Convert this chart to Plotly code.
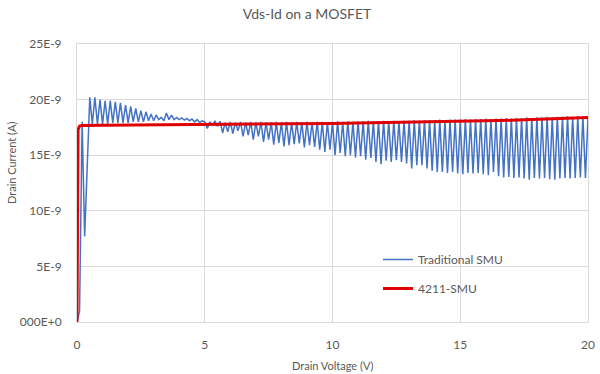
import plotly.graph_objects as go

# Sweep of drain voltage (V), 0.1 V steps, for the traditional SMU trace
drain_voltage = [round(0.1 * i, 1) for i in range(201)]

# Traditional SMU drain current (nA)
traditional_na = [
    0.0, 1.0, 18.0, 7.7, 14.0, 20.2, 17.8, 20.2, 17.8, 20.0,
    17.8, 19.9, 17.8, 19.9, 17.9, 19.8, 17.9, 19.7, 17.9, 19.5,
    17.9, 19.4, 18.0, 19.2, 18.0, 19.0, 18.0, 18.9, 18.1, 18.7,
    18.1, 18.6, 18.2, 18.4, 18.1, 18.8, 18.2, 18.6, 18.2, 18.4,
    18.2, 18.35, 18.15, 18.3, 18.1, 18.25, 18.0, 18.2, 17.95, 18.1,
    18.0, 17.4, 18.0, 17.7, 18.05, 17.6, 18.05, 17.0, 17.95, 17.1,
    18.0, 16.95, 17.95, 17.2, 18.0, 16.7, 17.95, 16.8, 18.0, 16.4,
    17.95, 16.7, 18.0, 16.2, 17.95, 16.4, 17.95, 15.95, 18.0, 16.1,
    17.95, 15.8, 18.0, 15.9, 17.95, 16.0, 18.0, 16.05, 17.95, 15.7,
    18.0, 15.9, 17.95, 15.75, 18.0, 15.5, 18.0, 15.3, 17.95, 15.5,
    18.0, 15.0, 18.05, 15.2, 18.0, 14.9, 18.05, 15.0, 18.0, 14.8,
    18.05, 14.9, 18.05, 14.6, 18.1, 14.75, 18.05, 14.4, 18.05, 14.2,
    18.1, 14.5, 18.05, 14.4, 18.1, 14.55, 18.05, 14.4, 18.1, 14.25,
    18.1, 13.8, 18.15, 14.1, 18.1, 14.1, 18.15, 13.8, 18.15, 13.6,
    18.15, 13.5, 18.2, 13.5, 18.15, 13.4, 18.2, 13.5, 18.2, 13.35,
    18.2, 13.3, 18.25, 13.4, 18.2, 13.35, 18.25, 13.4, 18.25, 13.3,
    18.3, 13.2, 18.25, 13.5, 18.3, 13.1, 18.3, 13.0, 18.35, 13.05,
    18.3, 12.95, 18.35, 13.0, 18.35, 12.9, 18.4, 12.8, 18.35, 12.95,
    18.4, 12.9, 18.4, 12.95, 18.45, 12.85, 18.4, 12.8, 18.45, 12.9,
    18.45, 12.95, 18.5, 12.9, 18.45, 12.95, 18.5, 13.0, 18.5, 12.95,
    18.45,
]

# 4211-SMU trace (V, nA)
smu4211_v = [0, 0.04, 0.1, 0.2, 1, 2, 3, 4, 5, 6, 7, 8, 9, 10,
             11, 12, 13, 14, 15, 16, 17, 18, 19, 20]
smu4211_na = [0.0, 17.3, 17.62, 17.68, 17.70, 17.71, 17.72, 17.73, 17.75,
              17.77, 17.79, 17.81, 17.83, 17.86, 17.89, 17.92, 17.96, 18.00,
              18.05, 18.10, 18.15, 18.21, 18.29, 18.38]

y_tick_vals_na = [0, 5, 10, 15, 20, 25]
y_tick_text = ["000E+0", "5E-9", "10E-9", "15E-9", "20E-9", "25E-9"]
x_tick_vals = [0, 5, 10, 15, 20]

FONT = "Lato, 'Open Sans', sans-serif"
TXT = "#595959"
GRID = "#D9D9D9"

fig = go.Figure()
fig.add_trace(go.Scatter(
    x=drain_voltage, y=[v * 1e-9 for v in traditional_na],
    mode="lines", name="Traditional SMU", legendgroup="a",
    line=dict(color="#4472C4", width=1.5),
))
fig.add_trace(go.Scatter(
    x=smu4211_v, y=[v * 1e-9 for v in smu4211_na],
    mode="lines", name="4211-SMU", legendgroup="b",
    line=dict(color="#E00000", width=3),
))

fig.update_layout(
    width=600, height=374, autosize=False,
    margin=dict(l=77, r=12, t=44, b=52, autoexpand=False),
    paper_bgcolor="white", plot_bgcolor="white",
    font=dict(family=FONT, color=TXT, size=12),
    title=dict(text="Vds-Id on a MOSFET", x=307 / 600, xref="container",
               xanchor="center", y=1 - 14.5 / 374, yref="container",
               yanchor="middle", font=dict(size=14, color=TXT, family=FONT)),
    legend=dict(x=(378 - 77) / 511, y=(322 - 245) / 278, xanchor="left",
                yanchor="top", bgcolor="rgba(255,255,255,0)",
                font=dict(size=12, color=TXT, family=FONT),
                traceorder="grouped", tracegroupgap=10),
    showlegend=True,
    shapes=[dict(type="rect", xref="paper", yref="paper",
                 x0=(348 - 77) / 511, x1=(530 - 77) / 511,
                 y0=(322 - 300) / 278, y1=(322 - 245) / 278,
                 fillcolor="white", line=dict(width=0), layer="between")],
    annotations=[
        dict(text="Drain Current (A)", xref="paper", yref="paper",
             x=(11 - 77) / 511, y=(322 - 163) / 278, textangle=-90,
             showarrow=False, xanchor="center", yanchor="middle",
             font=dict(size=11, color=TXT, family=FONT)),
        dict(text="Drain Voltage (V)", xref="paper", yref="paper",
             x=0.5, y=-(365 - 322) / 278, showarrow=False,
             xanchor="center", yanchor="middle",
             font=dict(size=11, color=TXT, family=FONT)),
    ],
)
fig.update_xaxes(range=[0, 20], tickvals=x_tick_vals, showgrid=True,
                 gridcolor=GRID, gridwidth=1, zeroline=False,
                 showline=True, linecolor=GRID, linewidth=1, mirror=True,
                 ticks="", ticklabelstandoff=12, automargin=False,
                 tickfont=dict(size=12, color=TXT, family=FONT))
fig.update_yaxes(range=[0, 25e-9], tickvals=[v * 1e-9 for v in y_tick_vals_na],
                 ticktext=y_tick_text, showgrid=True, gridcolor=GRID,
                 gridwidth=1, zeroline=False, showline=True, linecolor=GRID,
                 linewidth=1, mirror=True, ticks="", ticklabelstandoff=12,
                 automargin=False,
                 tickfont=dict(size=12, color=TXT, family=FONT))

fig.write_html("out.html",
               config={"displayModeBar": False, "responsive": False},
               post_script="document.body.style.margin='0';"
                           "document.body.style.overflow='hidden';")
